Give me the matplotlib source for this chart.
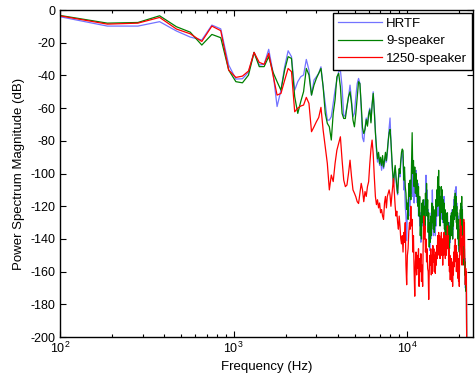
import numpy as np
import matplotlib
matplotlib.use("Agg")
import matplotlib.pyplot as plt
from matplotlib.ticker import LogLocator, FixedLocator, NullFormatter

plt.rcParams['font.family'] = ['Liberation Sans', 'DejaVu Sans']
plt.rcParams['axes.unicode_minus'] = False
plt.rcParams['mathtext.fontset'] = 'custom'
plt.rcParams['mathtext.rm'] = 'Liberation Sans'
plt.rcParams['mathtext.it'] = 'Liberation Sans'

# frequency bins (Hz): FFT bin spacing 93.75 Hz, bins 1..235
bin_spacing_hz = 93.75
bin_index = np.arange(1, 236)
freq_hz = bin_index * bin_spacing_hz

series_labels = ["HRTF", "9-speaker", "1250-speaker"]

hrtf_db = [
    -3.5, -9.8, -9.8, -7.1, -12.8, -16.5, -18.3, -9.2, -11.5, -33.6,
    -42.2, -42.0, -38.0, -25.9, -33.6, -33.2, -24.0, -38.0, -59.0, -49.0,
    -34.7, -24.9, -28.5, -49.0, -43.8, -40.8, -39.7, -30.2, -36.7, -52.0,
    -42.8, -40.8, -38.7, -34.7, -46.9, -57.1, -67.3, -67.3, -65.2, -57.1,
    -48.9, -42.8, -37.7, -36.7, -46.9, -65.2, -64.2, -59.1, -53.0, -45.9,
    -55.0, -65.2, -63.2, -53.0, -44.9, -41.8, -44.9, -60.0, -78.0, -80.5,
    -72, -66, -70, -63, -60, -68, -58, -50, -61, -74,
    -86, -93, -88, -95, -92, -98, -91, -97, -94, -89,
    -93, -88, -80, -72, -66, -79, -92, -100, -108, -101,
    -96, -104, -110, -113, -104, -98, -102, -94, -90, -86,
    -92, -110, -104, -120, -126, -141, -124, -116, -126, -106,
    -120, -108, -112, -98, -114, -108, -118, -104, -114, -98,
    -112, -118, -106, -126, -116, -132, -124, -142, -128, -120,
    -132, -118, -128, -134, -116, -124, -101, -118, -110, -128,
    -122, -140, -132, -147, -128, -140, -124, -132, -110, -126,
    -138, -124, -136, -126, -138, -120, -132, -118, -126, -112,
    -124, -108, -126, -116, -132, -120, -128, -114, -122, -116,
    -130, -116, -126, -114, -132, -124, -136, -126, -138, -128,
    -140, -126, -142, -132, -146, -134, -144, -130, -142, -126,
    -136, -124, -134, -122, -140, -126, -134, -116, -128, -114,
    -124, -110, -120, -108, -128, -118, -134, -124, -138, -126,
    -146, -132, -147, -136, -142, -124, -136, -122, -134, -120,
    -136, -124, -146, -134, -152, -140, -156, -146, -162, -152,
    -170, -162, -171, -166, -205,
]

speaker9_db = [
    -2.8, -8.0, -7.6, -3.5, -10.2, -13.5, -21.4, -14.9, -16.9, -36.7,
    -43.8, -44.5, -39.8, -25.9, -34.6, -34.6, -28.5, -38.0, -43.8, -49.0,
    -36.7, -28.5, -29.6, -53.0, -63.2, -56.0, -49.9, -35.7, -39.7, -52.0,
    -45.9, -41.8, -38.7, -35.7, -46.9, -63.2, -69.3, -71.4, -79.5, -63.2,
    -55.0, -40.8, -38.7, -46.9, -63.2, -66.3, -66.3, -59.1, -53.0, -50.0,
    -57.1, -67.3, -71.4, -63.2, -53.0, -43.8, -45.0, -58.0, -72.0, -75.5,
    -73, -67, -71, -64, -61, -69, -58, -51, -62, -75,
    -84, -91, -87, -94, -90, -95, -89, -96, -92, -87,
    -92, -86, -80, -75, -73, -80, -90, -99, -106, -100,
    -95, -102, -108, -112, -103, -97, -100, -92, -87, -85,
    -86, -104, -96, -108, -112, -122, -118, -128, -106, -114,
    -104, -116, -96, -75, -100, -92, -108, -96, -112, -100,
    -114, -104, -120, -108, -126, -114, -138, -126, -140, -118,
    -130, -116, -128, -120, -132, -112, -122, -106, -126, -116,
    -136, -124, -145, -130, -142, -126, -138, -118, -130, -120,
    -134, -122, -136, -124, -132, -116, -126, -110, -120, -102,
    -112, -98, -120, -108, -132, -114, -124, -108, -118, -110,
    -128, -116, -130, -118, -134, -122, -136, -124, -140, -128,
    -138, -124, -142, -130, -148, -136, -146, -132, -140, -126,
    -136, -124, -138, -126, -140, -122, -132, -120, -128, -114,
    -126, -112, -122, -114, -130, -120, -134, -124, -140, -128,
    -144, -134, -148, -136, -140, -122, -132, -118, -126, -114,
    -132, -122, -144, -136, -152, -140, -156, -146, -162, -154,
    -168, -160, -172, -168, -205,
]

speaker1250_db = [
    -3.0, -8.6, -8.0, -4.5, -11.6, -14.5, -19.2, -9.8, -12.6, -36.7,
    -41.2, -40.4, -37.3, -25.9, -32.0, -33.2, -26.5, -39.8, -52.0, -51.0,
    -43.0, -35.7, -37.7, -62.2, -60.0, -58.7, -58.1, -53.4, -57.1, -74.4,
    -71.4, -68.3, -65.7, -59.5, -73.4, -83.6, -93.8, -110.0, -100.9, -104.9,
    -93.8, -85.7, -81.6, -77.5, -91.8, -104.0, -108.0, -107.0, -99.9, -91.8,
    -101.9, -110.0, -112.0, -114.2, -117.2, -118.3, -112.1, -106.0, -110.0, -117.2,
    -111, -114, -108, -105, -94, -85, -79.5, -88, -102, -114,
    -119, -116, -121, -118, -124, -122, -126, -128, -118, -114,
    -121, -114, -112, -110, -113, -120, -114, -108, -103, -112,
    -120, -126, -123, -130, -134, -126, -132, -140, -143, -138,
    -148, -136, -142, -130, -156, -168, -150, -146, -136, -130,
    -134, -120, -132, -128, -148, -138, -160, -175, -154, -148,
    -162, -150, -158, -146, -169, -152, -160, -149, -166, -156,
    -169, -142, -126, -140, -132, -148, -140, -154, -146, -158,
    -160, -177, -160, -150, -156, -146, -162, -150, -161, -144,
    -154, -146, -160, -150, -161, -148, -156, -144, -152, -138,
    -148, -136, -150, -138, -152, -140, -148, -136, -150, -140,
    -156, -140, -150, -136, -148, -140, -152, -138, -150, -144,
    -146, -132, -144, -138, -156, -146, -160, -150, -165, -154,
    -162, -152, -166, -156, -169, -154, -162, -148, -157, -144,
    -154, -140, -150, -144, -160, -148, -157, -150, -164, -152,
    -166, -156, -169, -150, -144, -128, -138, -132, -150, -140,
    -156, -146, -152, -138, -144, -128, -140, -130, -152, -160,
    -168, -158, -166, -160, -205,
]

series_colors = ['#7373ff', '#008000', '#ff0000']

x_ticks = [100, 1000, 10000]
y_ticks = list(range(-200, 1, 20))

fig = plt.figure(figsize=(4.76, 3.87), dpi=100)
ax = fig.add_axes([0.126, 0.129, 0.868, 0.845])

for vals, lab, col in zip([hrtf_db, speaker9_db, speaker1250_db], series_labels, series_colors):
    ax.plot(freq_hz, vals, color=col, lw=0.9, label=lab)

ax.set_xscale('log')
ax.set_xlim(100, 24000)
ax.set_ylim(-200, 0)
ax.xaxis.set_major_locator(FixedLocator(x_ticks))
ax.xaxis.set_minor_locator(LogLocator(base=10, subs=np.arange(2, 10)))
ax.xaxis.set_minor_formatter(NullFormatter())
ax.set_yticks(y_ticks)
ax.set_yticklabels([str(v) for v in y_ticks])

ax.tick_params(which='both', direction='in', top=True, right=True, labelsize=9, width=0.8)
ax.tick_params(which='major', length=4, pad=3)
ax.tick_params(which='minor', length=2.5)
for s in ax.spines.values():
    s.set_linewidth(1.0)

ax.set_xlabel('Frequency (Hz)', fontsize=9.5, labelpad=3)
ax.set_ylabel('Power Spectrum Magnitude (dB)', fontsize=9.5, labelpad=4)

leg = ax.legend(loc='upper right', bbox_to_anchor=(1.0, 0.995), fontsize=9.5,
                frameon=True, fancybox=False, shadow=False, framealpha=1,
                edgecolor='black', borderaxespad=0.1, handlelength=3.3,
                handletextpad=0.35, labelspacing=0.4, borderpad=0.35)
leg.get_frame().set_linewidth(1.0)

fig.savefig('out.png', dpi=100)
